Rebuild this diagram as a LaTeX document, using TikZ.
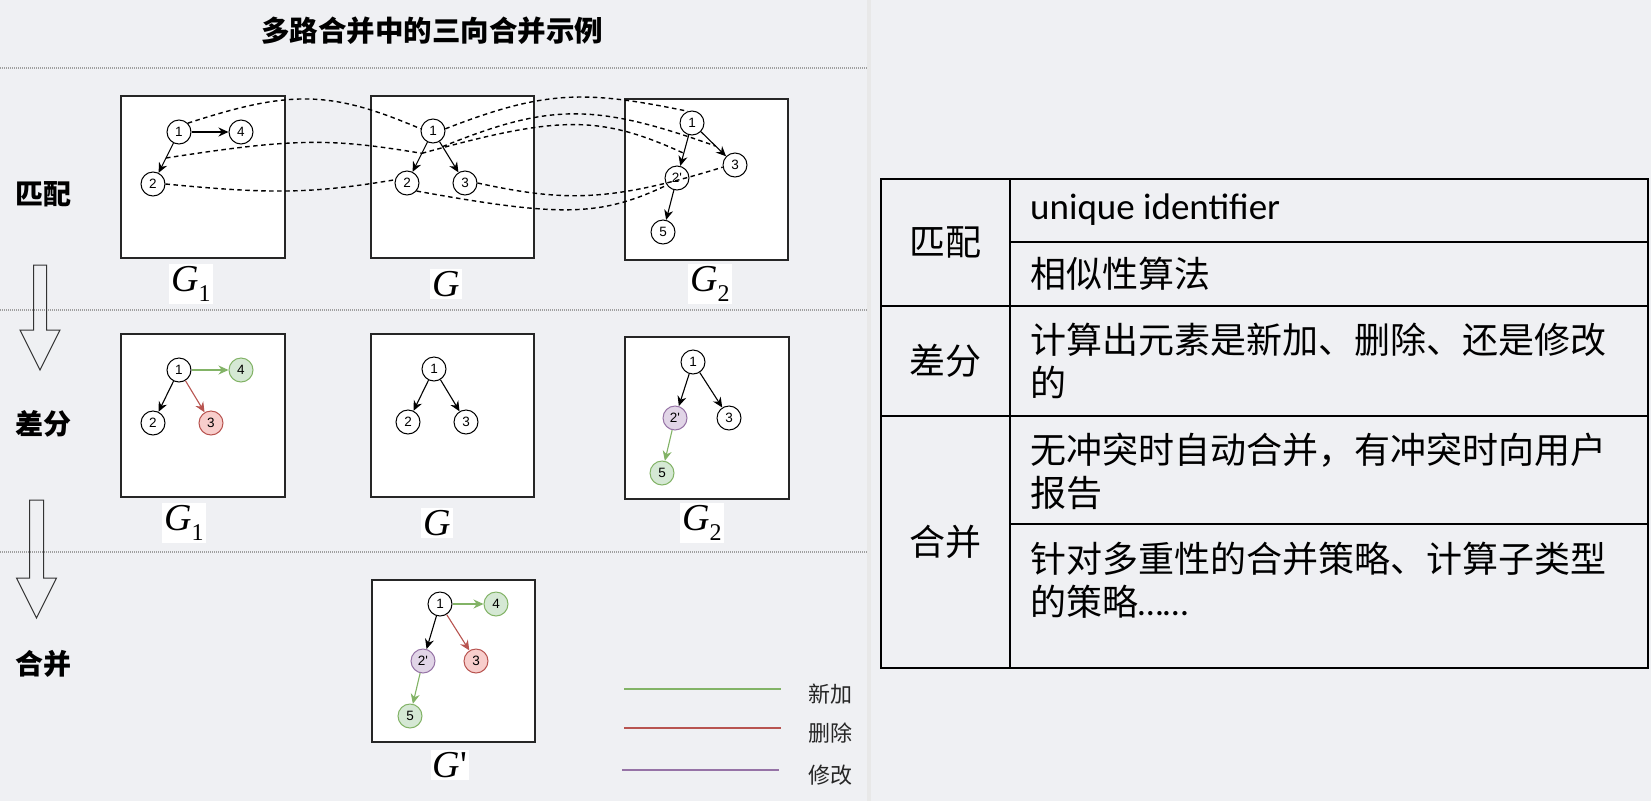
\documentclass[tikz,border=0pt]{standalone}
\usepackage{fontspec}
\setmainfont{Liberation Serif}
\newfontfamily\cjk{Noto Sans CJK SC}
\newfontfamily\numf{Liberation Sans}
\newfontfamily\carl{Carlito}
\newfontfamily\tms{Liberation Serif}
\usetikzlibrary{arrows.meta,calc}
\definecolor{bg}{RGB}{239,240,243}
\definecolor{grnD}{HTML}{82B366}
\definecolor{grnL}{HTML}{D5E8D4}
\definecolor{redD}{HTML}{B85450}
\definecolor{redL}{HTML}{F8CECC}
\definecolor{purD}{HTML}{9673A6}
\definecolor{purL}{HTML}{E1D5E7}
\newcommand\gsub[1]{{\tms\itshape G}\raisebox{-10pt}{\tms\fontsize{24}{24}\selectfont #1}}
\begin{document}
\begin{tikzpicture}[x=1pt,y=-1pt,
  gbox/.style={draw=black!85, line width=1.3pt, fill=white},
  vn/.style={circle, draw=black, fill=white, line width=1pt, minimum size=24pt, inner sep=0pt, font={\numf\fontsize{13.5}{13.5}\selectfont}},
  gn/.style={vn, draw=grnD, fill=grnL},
  rn/.style={vn, draw=redD, fill=redL},
  pn/.style={vn, draw=purD, fill=purL},
  ed/.style={-{Stealth[length=10pt,width=9pt]}, line width=1.1pt},
  edG/.style={ed, draw=grnD},
  edR/.style={ed, draw=redD},
  match/.style={dash pattern=on 4.5pt off 3.5pt, line width=1.4pt, draw=black},
  lbl/.style={fill=white, inner sep=2pt, font={\fontsize{38}{38}\selectfont}},
  sepline/.style={draw=gray!75, line width=1.3pt, dash pattern=on 1pt off 1pt},
  blk/.style={draw=black!80, line width=1pt},
  rowlbl/.style={font={\cjk\bfseries\fontsize{28}{30}\selectfont}},
  legtxt/.style={font={\cjk\fontsize{22}{26}\selectfont}, text=black!85},
  tcell/.style={font={\cjk\fontsize{36}{43}\selectfont}, align=left, anchor=west, inner sep=0pt},
  tlab/.style={font={\cjk\fontsize{36}{43}\selectfont}, inner sep=0pt}
]
\fill[bg] (0,0) rectangle (1651,801);
\useasboundingbox (0,0) rectangle (1651,801);
\fill[gray!18] (867,0) rectangle (871,801);

% title
\node[font={\cjk\bfseries\fontsize{28.5}{30}\selectfont}] (title) at (432,31) {多路合并中的三向合并示例};

% separators
\draw[sepline] (0,68) -- (868,68);
\draw[sepline] (0,310) -- (868,310);
\draw[sepline] (0,552) -- (868,552);

% row labels
\node[rowlbl] (r1) at (44,194) {匹配};
\node[rowlbl] (r2) at (43,424) {差分};
\node[rowlbl] (r3) at (43,664) {合并};

% block arrows
\draw[blk] (33.5,265) -- (46.5,265) -- (46.5,330) -- (60,330) -- (40,370) -- (20,330) -- (33.5,330) -- cycle;
\draw[blk] (29.5,500) -- (43.5,500) -- (43.5,578) -- (56.5,578) -- (36.5,618) -- (16.5,578) -- (29.5,578) -- cycle;

% ===== Row 1 =====
\draw[gbox] (121,96) rectangle (285,258);
\draw[gbox] (371,96) rectangle (534,258);
\draw[gbox] (625,99) rectangle (788,260);
\node[vn] (p1a) at (179,132) {1};
\node[vn] (p1d) at (241,132) {4};
\node[vn] (p1b) at (153,184) {2};
\node[vn] (pga) at (433,131) {1};
\node[vn] (pgb) at (407,183) {2};
\node[vn] (pgc) at (465,183) {3};
\node[vn] (p2a) at (692,123) {1};
\node[vn] (p2c) at (735,165) {3};
\node[vn] (p2b) at (677,178) {2'};
\node[vn] (p2e) at (663,232) {5};
\draw[ed, line width=1.9pt] (p1a) -- (p1d);
\draw[ed] (p1a) -- (p1b);
\draw[ed] (pga) -- (pgb);
\draw[ed] (pga) -- (pgc);
\draw[ed] (p2a) -- (p2b);
\draw[ed] (p2a) -- (p2c);
\draw[ed] (p2b) -- (p2e);
\node[lbl] (l11) at (191,284) {\gsub{1}};
\node[lbl] (l12) at (446,284) {{\tms\itshape G}};
\node[lbl] (l13) at (710,284) {\gsub{2}};

% matching lines
\coordinate (m1) at ($(p1a)!0.5!(p1b)$);
\coordinate (m2) at ($(pga)!0.43!(pgb)$);
\coordinate (m3) at ($(p2a)!0.55!(p2b)$);
\coordinate (m4) at ($(pga)!0.3!(pgc)$);
\coordinate (m5) at ($(p2a)!0.55!(p2c)$);
\draw[match] (p1a.45) .. controls (290,90) and (330,90) .. (pga.170);
\draw[match] (pga.10) .. controls (545,90) and (585,90) .. (p2a.110);
\draw[match] (m1) .. controls (295,138) and (330,138) .. (m2);
\draw[match] (m2) .. controls (560,115) and (600,115) .. (m3);
\draw[match] (m4) .. controls (550,103) and (595,103) .. (m5);
\draw[match] (p1b.east) .. controls (270,194) and (310,194) .. (pgb.165);
\draw[match] (pgc.east) .. controls (565,202) and (610,202) .. (p2c.190);
\draw[match] (pgb.-40) .. controls (560,217) and (600,217) .. (p2b.215);

% ===== Row 2 =====
\draw[gbox] (121,334) rectangle (285,497);
\draw[gbox] (371,334) rectangle (534,497);
\draw[gbox] (625,337) rectangle (789,499);
\node[vn] (q1a) at (179,370) {1};
\node[gn] (q1d) at (241,370) {4};
\node[vn] (q1b) at (153,423) {2};
\node[rn] (q1c) at (211,423) {3};
\node[vn] (qga) at (434,369) {1};
\node[vn] (qgb) at (408,422) {2};
\node[vn] (qgc) at (466,422) {3};
\node[vn] (q2a) at (693,362) {1};
\node[pn] (q2b) at (675,418) {2'};
\node[vn] (q2c) at (729,418) {3};
\node[gn] (q2e) at (662,473) {5};
\draw[edG] (q1a) -- (q1d);
\draw[edR] (q1a) -- (q1c);
\draw[ed] (q1a) -- (q1b);
\draw[ed] (qga) -- (qgb);
\draw[ed] (qga) -- (qgc);
\draw[ed] (q2a) -- (q2b);
\draw[ed] (q2a) -- (q2c);
\draw[edG] (q2b) -- (q2e);
\node[lbl] (l21) at (184,523) {\gsub{1}};
\node[lbl] (l22) at (437,523) {{\tms\itshape G}};
\node[lbl] (l23) at (702,523) {\gsub{2}};

% ===== Row 3 =====
\draw[gbox] (372,580) rectangle (535,742);
\node[vn] (ra) at (440,604) {1};
\node[gn] (rd) at (496,604) {4};
\node[pn] (rb) at (423,661) {2'};
\node[rn] (rc) at (476,661) {3};
\node[gn] (re) at (410,716) {5};
\draw[edG] (ra) -- (rd);
\draw[edR] (ra) -- (rc);
\draw[ed] (ra) -- (rb);
\draw[edG] (rb) -- (re);
\node[lbl] (l31) at (450,765) {{\tms\itshape G}{\tms '}};

% legend
\draw[grnD, line width=2.5pt] (624,689) -- (781,689);
\draw[redD, line width=2.5pt] (624,728) -- (781,728);
\draw[purD, line width=2.5pt] (622,770) -- (779,770);
\node[legtxt] (lg1) at (830,694) {新加};
\node[legtxt] (lg2) at (830,733) {删除};
\node[legtxt] (lg3) at (830,775) {修改};

% ===== Table =====
\draw[line width=2.5pt] (881,179) rectangle (1648,668);
\draw[line width=2.5pt] (1010,179) -- (1010,668);
\draw[line width=2.5pt] (1010,242) -- (1648,242);
\draw[line width=2.5pt] (881,306) -- (1648,306);
\draw[line width=2.5pt] (881,416) -- (1648,416);
\draw[line width=2.5pt] (1010,524) -- (1648,524);
\node[tlab] (t1) at (945.5,242) {匹配};
\node[tlab] (t2) at (945.5,361) {差分};
\node[tlab] (t3) at (945.5,542) {合并};
\node[tcell, font={\carl\fontsize{37}{43}\selectfont}] (c1) at (1030,210) {unique identifier};
\node[tcell] (c2) at (1030,274) {相似性算法};
\node[tcell] (c3) at (1030,361) {计算出元素是新加、删除、还是修改\\的};
\node[tcell] (c4) at (1030,471) {无冲突时自动合并，有冲突时向用户\\报告};
\node[tcell] (c5) at (1030,580) {针对多重性的合并策略、计算子类型\\的策略{\carl ……}};
\end{tikzpicture}
\end{document}
